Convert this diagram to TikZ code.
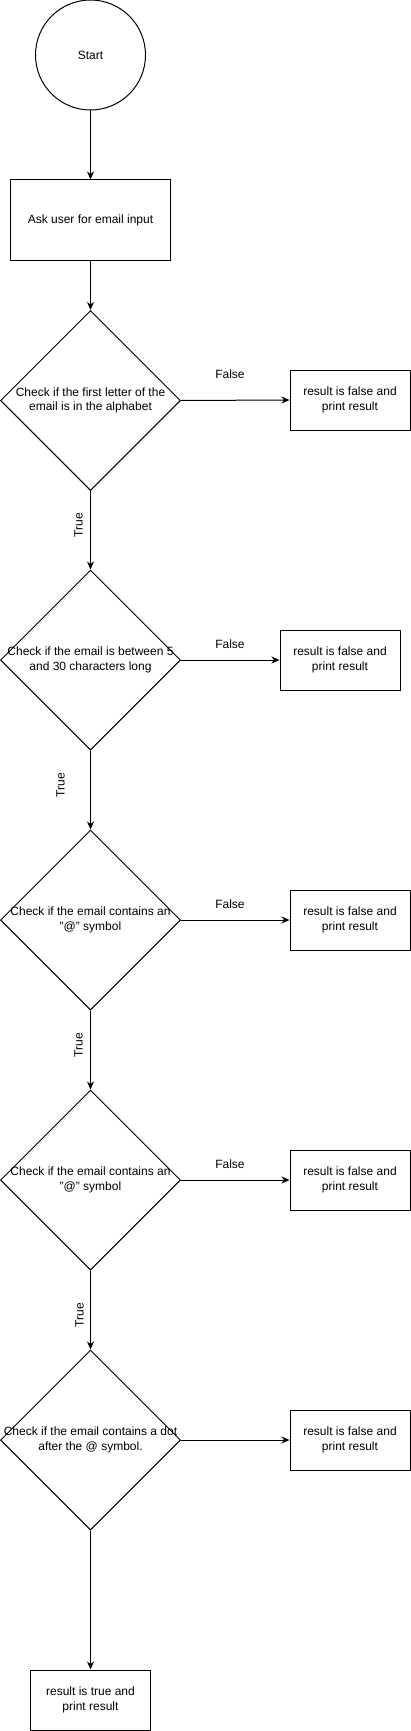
\documentclass[tikz,border=0pt]{standalone}
\usepackage{fontspec}
\setmainfont{Liberation Sans}
\usetikzlibrary{shapes.geometric,arrows.meta}

\begin{document}
\begin{tikzpicture}[x=1pt,y=-1pt,
    every node/.style={font=\fontsize{12}{14.5}\selectfont},
    flow/.style={line width=1pt,-{Stealth[length=8pt,width=7pt,inset=2.5pt]}},
    box/.style={draw,line width=1pt,shape=rectangle,align=center,inner sep=0pt},
    test/.style={draw,line width=1pt,shape=diamond,minimum width=180pt,minimum height=180pt,inner sep=0pt},
    testtext/.style={align=center,inner sep=0pt},
    answer/.style={inner sep=1pt}]
      \useasboundingbox (0,0) rectangle (411,1731) ;
      \node[draw,line width=1pt,shape=circle,minimum size=110pt,inner sep=0pt] %
      (start) at (90.5,55) {Start} ;
      \node[box,minimum width=160pt,minimum height=80pt] (ask) at (90.5,220) {Ask user for email input} ;
      % the five checks
      \node[test] (c1) at (90.5,400.5) {} ;
      \node[testtext] (c1t) at (c1) {Check if the first letter of the\\email is in the alphabet} ;
      \node[test] (c2) at (90.5,660) {} ;
      \node[testtext] (c2t) at (c2) {Check if the email is between 5\\and 30 characters long} ;
      \node[test] (c3) at (90.5,920) {} ;
      \node[testtext] (c3t) at (c3) {Check if the email contains an\\"@" symbol} ;
      \node[test] (c4) at (90.5,1180) {} ;
      \node[testtext] (c4t) at (c4) {Check if the email contains an\\"@" symbol} ;
      \node[test] (c5) at (90.5,1440) {} ;
      \node[testtext] (c5t) at (c5) {Check if the email contains a dot\\after the @ symbol.} ;
      % results
      \node[box,minimum width=120pt,minimum height=60pt] (f1) at (350,400) {result is false and\\print result} ;
      \node[box,minimum width=120pt,minimum height=60pt] (f2) at (340,660) {result is false and\\print result} ;
      \node[box,minimum width=120pt,minimum height=60pt] (f3) at (350,920) {result is false and\\print result} ;
      \node[box,minimum width=120pt,minimum height=60pt] (f4) at (350,1180) {result is false and\\print result} ;
      \node[box,minimum width=120pt,minimum height=60pt] (f5) at (350,1440) {result is false and\\print result} ;
      \node[box,minimum width=120pt,minimum height=60pt] (done) at (90.5,1700) {result is true and\\print result} ;
      % connectors
      \draw[flow] (start) -- (ask) ;
      \draw[flow] (ask) -- (c1) ;
      \draw[flow] (c1) -- (c2) ;
      \draw[flow] (c2) -- (c3) ;
      \draw[flow] (c3) -- (c4) ;
      \draw[flow] (c4) -- (c5) ;
      \draw[flow] (c5) -- (done) ;
      \draw[flow] (c1.east) -- (f1.west) ;
      \draw[flow] (c2.east) -- (f2.west) ;
      \draw[flow] (c3.east) -- (f3.west) ;
      \draw[flow] (c4.east) -- (f4.west) ;
      \draw[flow] (c5.east) -- (f5.west) ;
      % branch labels
      \node[answer] (n1) at (230,374.5) {False} ;
      \node[answer] (n2) at (230,644.5) {False} ;
      \node[answer] (n3) at (230,904.5) {False} ;
      \node[answer] (n4) at (230,1164.5) {False} ;
      \node[answer,rotate=90] (y1) at (78.5,525) {True} ;
      \node[answer,rotate=90] (y2) at (60.5,785) {True} ;
      \node[answer,rotate=90] (y3) at (78.5,1045) {True} ;
      \node[answer,rotate=90] (y4) at (79.5,1315) {True} ;
    \end{tikzpicture}
\end{document}
